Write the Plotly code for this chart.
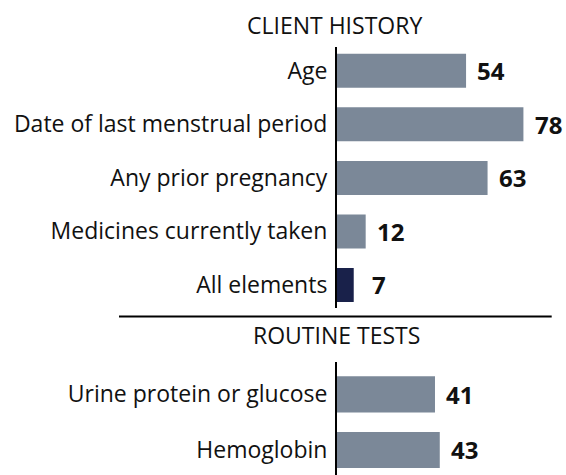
import plotly.graph_objects as go

# Data
history_labels = ["Age", "Date of last menstrual period", "Any prior pregnancy",
                  "Medicines currently taken", "All elements"]
history_values = [54, 78, 63, 12, 7]
history_colors = ["#7b8898", "#7b8898", "#7b8898", "#7b8898", "#19214a"]

tests_labels = ["Urine protein or glucose", "Hemoglobin"]
tests_values = [41, 43]
tests_colors = ["#7b8898", "#7b8898"]

section_titles = ["CLIENT HISTORY", "ROUTINE TESTS"]

W, H = 566, 475
FONT = "Open Sans"


def px(x):
    return x / W


def py(y):
    return 1 - y / H


AXIS_X = 337
PX_PER_UNIT = 2.39
X_MAX = (W - AXIS_X) / PX_PER_UNIT

fig = go.Figure()
fig.add_trace(go.Bar(x=history_values, y=history_labels, orientation="h",
                     marker=dict(color=history_colors, line=dict(width=0)),
                     width=0.635, xaxis="x", yaxis="y", hoverinfo="skip"))
fig.add_trace(go.Bar(x=tests_values, y=tests_labels, orientation="h",
                     marker=dict(color=tests_colors, line=dict(width=0)),
                     width=0.65, xaxis="x2", yaxis="y2", hoverinfo="skip"))

val_font = dict(family=FONT, size=24, color="#111")
annotations = []
for lab, v in zip(history_labels, history_values):
    annotations.append(dict(x=v, y=lab, xref="x", yref="y", text=f"<b>{v}</b>",
                            showarrow=False, xanchor="center", yanchor="middle",
                            xshift=25, font=val_font))
for lab, v in zip(tests_labels, tests_values):
    annotations.append(dict(x=v, y=lab, xref="x2", yref="y2", text=f"<b>{v}</b>",
                            showarrow=False, xanchor="center", yanchor="middle",
                            xshift=25, font=val_font))
title_font = dict(family=FONT, size=23, color="#111")
annotations.append(dict(x=px(334), y=py(25), xref="paper", yref="paper",
                        text=section_titles[0], showarrow=False, xanchor="center",
                        yanchor="middle", font=title_font))
annotations.append(dict(x=px(336), y=py(335), xref="paper", yref="paper",
                        text=section_titles[1], showarrow=False, xanchor="center",
                        yanchor="middle", font=title_font))

x_dom = [px(AXIS_X), 1]
axis_common = dict(showgrid=False, zeroline=False, showticklabels=False,
                   showline=False, range=[0, X_MAX], fixedrange=True)
yaxis_common = dict(type="category", showgrid=False, zeroline=False,
                    showline=True, linecolor="#000", linewidth=2, ticks="",
                    ticklabelstandoff=3, fixedrange=True,
                    tickfont=dict(family=FONT, size=23, color="#111"))

fig.update_layout(
    width=W, height=H,
    margin=dict(l=0, r=0, t=0, b=0),
    paper_bgcolor="white", plot_bgcolor="white",
    showlegend=False,
    xaxis=dict(domain=x_dom, anchor="y", **axis_common),
    xaxis2=dict(domain=x_dom, anchor="y2", **axis_common),
    yaxis=dict(domain=[py(308), py(46.7)], anchor="x",
               range=[4.43, -0.45], **yaxis_common),
    yaxis2=dict(domain=[0, py(361.7)], anchor="x2",
                range=[1.449, -0.585], **yaxis_common),
    annotations=annotations,
    shapes=[dict(type="line", xref="paper", yref="paper",
                 x0=px(119), x1=px(551.7), y0=py(316.5), y1=py(316.5),
                 line=dict(color="#000", width=2))],
    font=dict(family=FONT),
)

fig.write_html(
    "out.html",
    config={"displayModeBar": False, "staticPlot": True},
    post_script="document.body.style.margin='0';"
                "document.documentElement.style.overflow='hidden';"
                "document.body.style.overflow='hidden';",
)
